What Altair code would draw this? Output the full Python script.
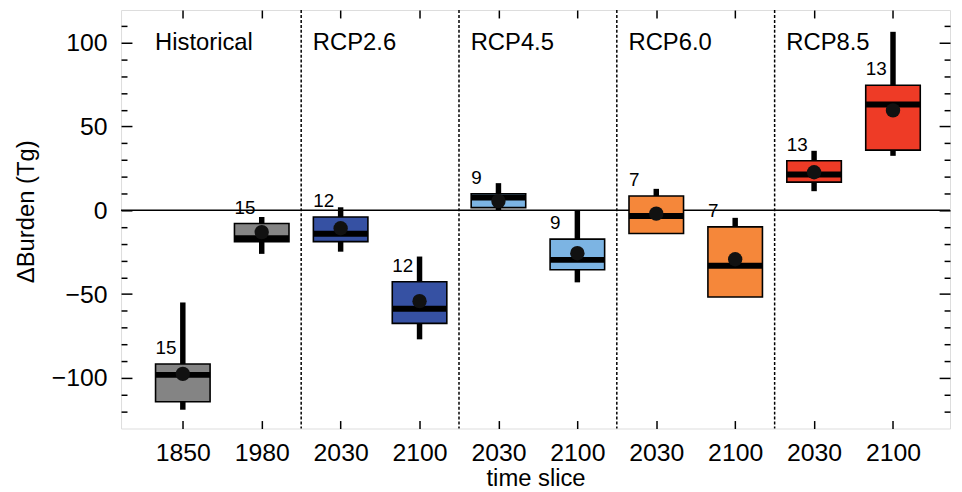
import altair as alt
import pandas as pd

# ---- data ----
slices = ["1850", "1980", "2030", "2100", "2030", "2100", "2030", "2100", "2030", "2100"]
panels = ["Historical", "Historical", "RCP2.6", "RCP2.6", "RCP4.5", "RCP4.5",
          "RCP6.0", "RCP6.0", "RCP8.5", "RCP8.5"]
n_models = [15, 15, 12, 12, 9, 9, 7, 7, 13, 13]
whisker_low = [-119, -26, -24.7, -77, 0, -43, -13.8, -51.7, 11.4, 32.5]
whisker_high = [-55, -4, 1.8, -27.6, 16.2, -0.4, 12.8, -4.5, 35.5, 106.5]
q1 = [-114.2, -18.7, -18.7, -67.5, 1.6, -35.5, -13.8, -51.7, 16.8, 35.9]
q3 = [-91.7, -7.9, -4.0, -42.6, 9.9, -17.2, 8.5, -9.9, 29.6, 74.6]
median = [-98.2, -16.6, -14.0, -58.8, 7.6, -29.6, -3.4, -33.1, 21.3, 63.1]
mean = [-97.6, -13.0, -10.7, -54.2, 5.5, -25.6, -2.0, -29.2, 22.7, 59.6]

panel_names = ["Historical", "RCP2.6", "RCP4.5", "RCP6.0", "RCP8.5"]
panel_colors = ["#848484", "#3651a3", "#7cb4e3", "#f5873a", "#ee3b26"]
panel_first = [0, 2, 4, 6, 8]
separators = [1.5, 3.5, 5.5, 7.5]
y_minor = list(range(-120, 111, 10))
y_major = [-100, -50, 0, 50, 100]

df = pd.DataFrame({
    "pos": list(range(len(slices))), "slice": slices, "panel": panels,
    "n": [str(v) for v in n_models], "lo": whisker_low, "hi": whisker_high,
    "q1": q1, "q3": q3, "med": median, "mean": mean,
})
panel_df = pd.DataFrame({"pos": panel_first, "name": panel_names, "y": [100] * 5})
sep_df = pd.DataFrame({"s": separators})
zero_df = pd.DataFrame({"v": [0]})
ytick_df = pd.DataFrame({"v": y_minor})
xtick_df = pd.DataFrame({"p": list(range(len(slices)))})

W, H = 836, 422
xs = alt.Scale(domain=[-0.72, 9.66], nice=False, zero=False)
ys = alt.Scale(domain=[-130.2, 119.5], nice=False, zero=False)
FONT = "Liberation Sans"

base = alt.Chart(df)
X = alt.X("pos:Q", scale=xs, axis=None)

whisk = base.mark_rule(strokeWidth=5.5, color="black").encode(
    x=X, y=alt.Y("lo:Q", scale=ys, axis=None), y2="hi:Q")
box = base.mark_bar(size=55, stroke="black", strokeWidth=1.6, opacity=1).encode(
    x=X, y=alt.Y("q1:Q", scale=ys, axis=None), y2="q3:Q",
    fill=alt.Fill("panel:N", scale=alt.Scale(domain=panel_names, range=panel_colors), legend=None))
med = base.mark_tick(orient="horizontal", size=55, thickness=6, color="black", opacity=1).encode(
    x=X, y=alt.Y("med:Q", scale=ys, axis=None))
dot = base.mark_circle(size=210, color="#111111", opacity=1).encode(
    x=X, y=alt.Y("mean:Q", scale=ys, axis=None))
counts = base.mark_text(align="left", baseline="alphabetic", dx=-27.5, dy=-10,
                        fontSize=19, font=FONT, color="black").encode(
    x=X, y=alt.Y("q3:Q", scale=ys, axis=None), text="n:N")

plabels = alt.Chart(panel_df).mark_text(align="left", baseline="middle", dx=-28,
                                        fontSize=24, font=FONT, color="black").encode(
    x=X, y=alt.Y("y:Q", scale=ys, axis=None), text="name:N")

zero = alt.Chart(zero_df).mark_rule(color="black", strokeWidth=1.5).encode(
    y=alt.Y("v:Q", scale=ys, axis=None))
seps = alt.Chart(sep_df).mark_rule(color="black", strokeWidth=1.5, strokeDash=[3, 2]).encode(
    x=alt.X("s:Q", scale=xs, axis=None))

major_cond = {"condition": {"test": "datum.value % 50 === 0", "value": 11}, "value": 6}

y_lab = alt.Chart(ytick_df).mark_point(opacity=0).encode(
    y=alt.Y("v:Q", scale=ys, axis=alt.Axis(
        orient="left", values=y_major, ticks=False, tickSize=0, domain=False,
        labelPadding=14, labelFontSize=25, labelFont=FONT, labelColor="black",
        title="ΔBurden (Tg)", titleFontSize=24, titleFont=FONT, titleFontWeight="normal",
        titleColor="black", titlePadding=13, titleY=203, grid=False)))
y_tick_l = alt.Chart(ytick_df).mark_point(opacity=0).encode(
    y=alt.Y("v:Q", scale=ys, axis=alt.Axis(
        orient="right", offset=-W, values=y_minor, labels=False, domain=False,
        tickSize=major_cond, tickWidth=1.5, tickColor="black", title=None, grid=False)))
y_tick_r = alt.Chart(ytick_df).mark_point(opacity=0).encode(
    y=alt.Y("v:Q", scale=ys, axis=alt.Axis(
        orient="left", offset=-W, values=y_minor, labels=False, domain=False,
        tickSize=major_cond, tickWidth=1.5, tickColor="black", title=None, grid=False)))

label_expr = "[" + ",".join("'%s'" % s for s in slices) + "][datum.value]"
x_lab = alt.Chart(xtick_df).mark_point(opacity=0).encode(
    x=alt.X("p:Q", scale=xs, axis=alt.Axis(
        orient="bottom", values=list(range(len(slices))), labelExpr=label_expr,
        ticks=False, tickSize=0, domain=False, labelPadding=12, labelFontSize=25,
        labelFont=FONT, labelColor="black", labelOverlap=False, labelFlush=False,
        title="time slice", titleFontSize=24, titleFont=FONT, titleFontWeight="normal",
        titleColor="black", titlePadding=1, grid=False)))
x_tick_b = alt.Chart(xtick_df).mark_point(opacity=0).encode(
    x=alt.X("p:Q", scale=xs, axis=alt.Axis(
        orient="top", offset=-H, values=list(range(len(slices))), labels=False,
        domain=False, tickSize=8, tickWidth=1.5, tickColor="black", title=None, grid=False)))
x_tick_t = alt.Chart(xtick_df).mark_point(opacity=0).encode(
    x=alt.X("p:Q", scale=xs, axis=alt.Axis(
        orient="bottom", offset=-H, values=list(range(len(slices))), labels=False,
        domain=False, tickSize=8, tickWidth=1.5, tickColor="black", title=None, grid=False)))

chart = alt.layer(
    y_lab, y_tick_l, y_tick_r, x_lab, x_tick_b, x_tick_t,
    seps, zero, whisk, box, med, dot, counts, plabels,
).resolve_axis(x="independent", y="independent").properties(
    width=W, height=H, autosize="none",
    padding={"left": 114, "top": 0, "right": 4, "bottom": 62},
).configure_view(stroke="black", strokeWidth=1.5).configure(font=FONT)

chart.save("out.html", embed_options={"renderer": "svg", "actions": False})
